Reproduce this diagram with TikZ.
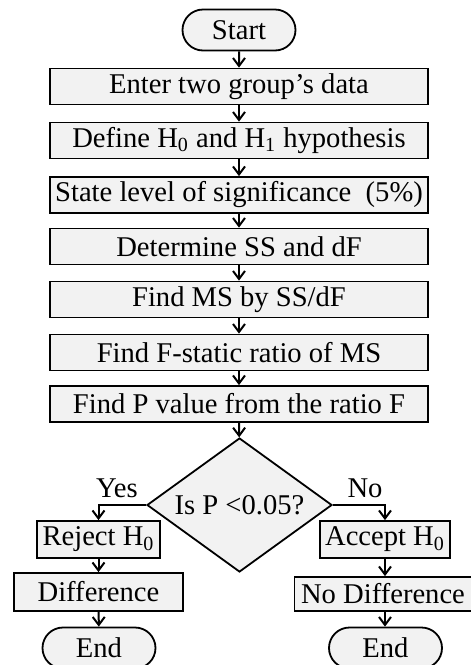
\documentclass[tikz,border=0pt]{standalone}
\usepackage{fontspec}
\setmainfont{Liberation Serif}
\usepackage{xcolor}
\usetikzlibrary{shapes.geometric, shapes.misc, arrows.meta, positioning, calc}
\definecolor{boxgray}{RGB}{242,242,242}

\begin{document}
\begin{tikzpicture}[x=0.5pt,y=-0.5pt,
  font=\fontsize{14.3}{16}\selectfont,
  stepbox/.style={draw,line width=0.9pt,fill=boxgray,minimum width=189pt,minimum height=18pt,inner sep=0pt},
  smallbox/.style={draw,line width=0.9pt,fill=boxgray,minimum height=18.5pt,inner sep=0pt},
  termbox/.style={draw,line width=0.9pt,fill=boxgray,rounded rectangle,minimum width=56.5pt,minimum height=20.5pt,inner sep=0pt},
  flow/.style={-{Straight Barb[length=4pt,width=6pt]},line width=1pt}]
\useasboundingbox (0,0) rectangle (471,665);

% Start
\node[termbox] (start) at (239,30) {Start};

% Main steps
\node[stepbox] (enter) at (239,86.5) {Enter two group’s data};
\node[stepbox] (hyp) at (239,140.5) {Define H\textsubscript{0} and H\textsubscript{1} hypothesis};
\node[stepbox] (sig) at (239,195) {State level of significance \ (5\%)};
\node[stepbox] (ss) at (239,246.5) {Determine SS and dF};
\node[stepbox] (ms) at (239,299.5) {Find MS by SS/dF};
\node[stepbox] (ratio) at (239,352.5) {Find F-static ratio of MS};
\node[stepbox] (pval) at (239,404) {Find P value from the ratio F};

\draw[flow] (start) -- (enter);
\draw[flow] (enter) -- (hyp);
\draw[flow] (hyp) -- (sig);
\draw[flow] (sig) -- (ss);
\draw[flow] (ss) -- (ms);
\draw[flow] (ms) -- (ratio);
\draw[flow] (ratio) -- (pval);

% Decision
\node[draw,line width=0.9pt,fill=boxgray,diamond,aspect=1.38,minimum width=92.5pt,minimum height=67pt,inner sep=0pt] (test) at (239.5,505) {Is P <0.05?};
\draw[flow] (pval) -- (test);

\node (yes) at (117,488) {Yes};
\node (no) at (365,488) {No};

% Yes branch
\node[smallbox,minimum width=61.5pt] (reject) at (98.5,539.5) {Reject H\textsubscript{0}};
\node[smallbox,minimum width=84.5pt,minimum height=19pt] (diff) at (98.5,592) {Difference};
\node[termbox] (end1) at (99,648) {End};
\draw[flow] (test.west) -| (reject.north);
\draw[flow] (reject) -- (diff);
\draw[flow] (diff) -- (end1);

% No branch
\node[smallbox,minimum width=65pt] (accept) at (385,539.5) {Accept H\textsubscript{0}};
\node[smallbox,minimum width=88.5pt,minimum height=17pt] (nodiff) at (383,594) {No Difference};
\node[termbox] (end2) at (385.5,648) {End};
\draw[flow] (test.east) -| (accept.north);
\draw[flow] (accept) -- (accept |- nodiff.north);
\draw[flow] (accept |- nodiff.south) -- (accept |- end2.north);
\end{tikzpicture}
\end{document}
